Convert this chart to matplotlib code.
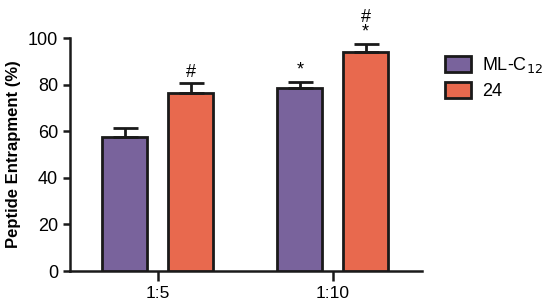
import matplotlib.pyplot as plt
import numpy as np

plt.rcParams['font.family'] = ['Liberation Sans', 'DejaVu Sans']

groups = ['1:5', '1:10']
series_names = ['ML-C$_{12}$', '24']
ml_c12 = [57.5, 78.4]
ml_c12_err = [3.8, 2.9]
comp24 = [76.6, 94.1]
comp24_err = [3.9, 3.5]
marks_ml = ['', '*']
marks_24 = ['#', '#\n*']

purple = '#79639c'
orange = '#e8694e'

fig = plt.figure(figsize=(5.5, 3.02), dpi=100)
ax = fig.add_axes([0.127, 0.1026, 0.64, 0.7715])

x = np.arange(len(groups))
w = 0.257
off = 0.188
err_kw = dict(ecolor='#1a1a1a', elinewidth=2, capsize=9, capthick=2)
b1 = ax.bar(x - off, ml_c12, w, color=purple, edgecolor='#1a1a1a', linewidth=2,
            yerr=[np.zeros(2), ml_c12_err], error_kw=err_kw, label=series_names[0], zorder=3)
b2 = ax.bar(x + off, comp24, w, color=orange, edgecolor='#1a1a1a', linewidth=2,
            yerr=[np.zeros(2), comp24_err], error_kw=err_kw, label=series_names[1], zorder=3)

for xi, v, e, m in zip(x - off, ml_c12, ml_c12_err, marks_ml):
    if m:
        ax.text(xi, v + e + 1.2, m, ha='center', va='bottom', fontsize=13, linespacing=0.85)
for xi, v, e, m in zip(x + off, comp24, comp24_err, marks_24):
    ax.text(xi, v + e + 1.2, m, ha='center', va='bottom', fontsize=13, linespacing=0.85)

ax.set_xlim(-0.503, 1.509)
ax.set_ylim(0, 100)
ax.set_yticks([0, 20, 40, 60, 80, 100])
ax.set_xticks(x)
ax.set_xticklabels(groups)
ax.set_ylabel('Peptide Entrapment (%)', fontsize=12, fontweight='bold', labelpad=5)
ax.tick_params(axis='both', labelsize=13, width=1.8, length=5, direction='out', color='#1a1a1a')
ax.tick_params(axis='x', length=7, labelsize=12.5)
for s in ['top', 'right']:
    ax.spines[s].set_visible(False)
for s in ['left', 'bottom']:
    ax.spines[s].set_linewidth(1.8)
    ax.spines[s].set_color('#1a1a1a')

ax.legend(loc='upper left', bbox_to_anchor=(1.03, 0.98), frameon=False, fontsize=13,
          handlelength=1.45, handleheight=1.0, handletextpad=0.6, labelspacing=0.35,
          borderaxespad=0.3)

fig.savefig('out.png', dpi=100)
